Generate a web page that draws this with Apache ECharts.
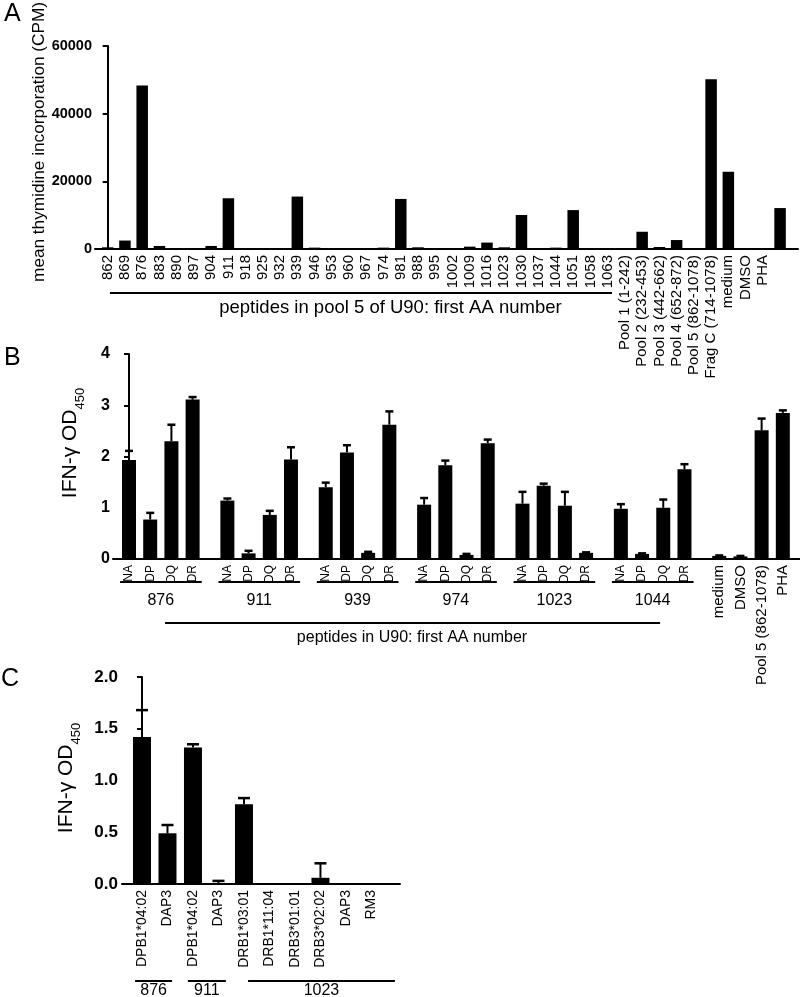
<!DOCTYPE html>
<html><head><meta charset="utf-8">
<script src="https://cdn.jsdelivr.net/npm/echarts@6/dist/echarts.min.js"></script>
<style>html,body{margin:0;padding:0;background:#fff}#c{width:800px;height:997px}</style>
</head><body><div id="c"></div>
<script>
const FONT = '"Liberation Sans", Arial, Helvetica, sans-serif';

// ---------- Panel A data ----------
const catsA = ['862','869','876','883','890','897','904','911','918','925','932','939','946','953','960','967','974','981','988','995','1002','1009','1016','1023','1030','1037','1044','1051','1058','1063',
  'Pool 1 (1-242)','Pool 2 (232-453)','Pool 3 (442-662)','Pool 4 (652-872)','Pool 5 (862-1078)','Frag C (714-1078)','medium','DMSO','PHA',''];
const valsA = [500,2500,48300,900,100,300,900,15000,0,0,0,15500,400,200,200,0,400,14800,500,0,0,700,1900,500,10050,300,400,11500,0,0,
  0,5100,600,2650,0,50150,22850,0,0,12100];
const yTicksA = [0,20000,40000,60000];
const nameA = 'mean thymidine incorporation (CPM)';
const titleA = 'peptides in pool 5 of U90: first AA number';

// ---------- Panel B data ----------
const groupsB = ['876','911','939','974','1023','1044'];
const allelesB = ['NA','DP','DQ','DR'];
const meanB = [
  [1.93,0.77,2.30,3.11],
  [1.14,0.11,0.86,1.94],
  [1.40,2.08,0.12,2.62],
  [1.06,1.83,0.08,2.26],
  [1.08,1.43,1.04,0.12],
  [0.98,0.10,1.00,1.75]
];
const semB = [
  [0.18,0.13,0.32,0.05],
  [0.04,0.05,0.08,0.24],
  [0.09,0.14,0.02,0.26],
  [0.13,0.09,0.02,0.07],
  [0.23,0.04,0.27,0.01],
  [0.09,0.01,0.16,0.10]
];
const ctrlB = ['medium','DMSO','Pool 5 (862-1078)','PHA'];
const ctrlMeanB = [0.06,0.05,2.51,2.85];
const ctrlSemB = [0.01,0.01,0.23,0.05];
const titleB = 'peptides in U90: first AA number';
const nameBC = '{m|IFN-γ OD}{s|450}';

// ---------- Panel C data ----------
const catsC = ['DPB1*04:02','DAP3','DPB1*04:02','DAP3','DRB1*03:01','DRB1*11:04','DRB3*01:01','DRB3*02:02','DAP3','RM3'];
const meanC = [1.42,0.49,1.32,0.01,0.77,0.005,0,0.06,0,0];
const semC  = [0.26,0.08,0.03,0.02,0.06,0,0,0.14,0,0];
const groupNamesC = ['876','911','1023'];
const groupSizesC = [2,2,6];

// ---------- layout ----------
const GAP_B = 0.64; // extra spacing between groups in panel B (in bar units)

const labelsB = [], posB = [], barB = [], errB = [];
groupsB.forEach((g, gi) => allelesB.forEach((a, k) => {
  const idx = gi*4 + k, x = idx + gi*GAP_B;
  labelsB.push('{a|' + a + '}'); posB.push(x);
  barB.push([x, meanB[gi][k]]);
  errB.push([x, meanB[gi][k], meanB[gi][k] + semB[gi][k]]);
}));
ctrlB.forEach((c, k) => {
  const idx = groupsB.length*4 + k, x = idx + groupsB.length*GAP_B;
  labelsB.push('{c|' + c + '}'); posB.push(x);
  barB.push([x, ctrlMeanB[k]]);
  errB.push([x, ctrlMeanB[k], ctrlMeanB[k] + ctrlSemB[k]]);
});

const barA = valsA.map((v,i)=>[i,v]);
const posA = catsA.map((c,i)=>i);
const barC = meanC.map((v,i)=>[i,v]);
const errC = meanC.map((v,i)=>[i,v,v+semC[i]]);
const posC = catsC.map((c,i)=>i);

function errRender(capHalf){
  return function(params, api){
    const x = api.value(0), y0 = api.value(1), y1 = api.value(2);
    if (!(y1 > y0)) return null;
    const p0 = api.coord([x,y0]), p1 = api.coord([x,y1]);
    return {type:'group', children:[
      {type:'line', shape:{x1:p0[0],y1:p0[1],x2:p1[0],y2:p1[1]}, style:{stroke:'#000',lineWidth:2}},
      {type:'line', shape:{x1:p1[0]-capHalf,y1:p1[1],x2:p1[0]+capHalf,y2:p1[1]}, style:{stroke:'#000',lineWidth:2.5}}
    ]};
  };
}

function xAxisCfg(grid, min, max, labels, positions, fs){
  return {type:'value', gridIndex:grid, min:min, max:max,
    axisLine:{show:true, onZero:false, lineStyle:{color:'#000', width:2}},
    axisTick:{show:false}, splitLine:{show:false},
    axisLabel:{customValues: positions, rotate:90, margin:6, color:'#000', fontFamily:FONT, fontSize:fs,
      rich:{a:{fontSize:12, fontFamily:FONT, color:'#000'}, c:{fontSize:15, fontFamily:FONT, color:'#000'}},
      formatter: v => { const i = positions.findIndex(p => Math.abs(p - v) < 1e-6); return i >= 0 ? labels[i] : ''; }}
  };
}
function yAxisCfg(grid, max, interval, fmt, fs, margin){
  return {type:'value', gridIndex:grid, min:0, max:max, interval:interval,
    axisLine:{show:true, lineStyle:{color:'#000', width:2}},
    axisTick:{show:true, length:5, lineStyle:{color:'#000', width:2}},
    splitLine:{show:false},
    axisLabel:{color:'#000', fontWeight:'bold', fontFamily:FONT, fontSize:fs, margin:margin, formatter:fmt}
  };
}

const chart = echarts.init(document.getElementById('c'), null, {renderer:'canvas'});
chart.setOption({
  animation:false,
  backgroundColor:'#fff',
  grid:[
    {left:95, right:2, top:46, height:203},
    {left:113, right:0, top:354, height:205},
    {left:122, width:278, top:677, height:207}
  ],
  xAxis:[
    xAxisCfg(0, -0.737, 40.04, catsA, posA, 15),
    xAxisCfg(1, -0.755, 31.65, labelsB, posB, 15),
    xAxisCfg(2, -0.784, 10.12, catsC, posC, 14)
  ],
  yAxis:[
    yAxisCfg(0, 60000, 20000, v => String(v), 14.5, 3),
    yAxisCfg(1, 4, 1, v => String(v), 16, 3),
    yAxisCfg(2, 2, 0.5, v => v.toFixed(1), 17, 4)
  ],
  series:[
    {type:'bar', xAxisIndex:0, yAxisIndex:0, data:barA, barWidth:11.5, itemStyle:{color:'#000'}},
    {type:'bar', xAxisIndex:1, yAxisIndex:1, data:barB, barWidth:14, itemStyle:{color:'#000'}},
    {type:'custom', xAxisIndex:1, yAxisIndex:1, data:errB, renderItem:errRender(4), z:3},
    {type:'bar', xAxisIndex:2, yAxisIndex:2, data:barC, barWidth:18, itemStyle:{color:'#000'}},
    {type:'custom', xAxisIndex:2, yAxisIndex:2, data:errC, renderItem:errRender(6), z:3}
  ]
});

// ---------- annotations derived from the axis scales ----------
const px = (ax, v) => chart.convertToPixel({xAxisIndex:ax}, v);
const g = [];
const txt = (x, y, s, fs, align) => ({type:'text', x:x, y:y, style:{text:s, fill:'#000', font: fs+'px '+FONT, textAlign:align||'center', textVerticalAlign:'middle'}});
const ln = (x1, x2, y, w) => ({type:'line', shape:{x1:x1, y1:y, x2:x2, y2:y}, style:{stroke:'#000', lineWidth:w||2}});
const vtxt = (x, y, s, fs, rich) => ({type:'text', x:x, y:y, rotation:Math.PI/2,
  style:{text:s, fill:'#000', font: fs+'px '+FONT, textAlign:'center', textVerticalAlign:'middle', rich:rich}});
const richSub = {m:{fontSize:21, fontFamily:FONT, fill:'#000', padding:[0,0,6,0]}, s:{fontSize:13, fontFamily:FONT, fill:'#000', verticalAlign:'bottom'}};

// Panel letters
g.push({type:'text', left:4, top:2, style:{text:'A', fill:'#000', font:'25px '+FONT}});
g.push({type:'text', left:4, top:346, style:{text:'B', fill:'#000', font:'25px '+FONT}});
g.push({type:'text', left:1, top:667, style:{text:'C', fill:'#000', font:'25px '+FONT}});

// Axis names
g.push(vtxt(39, 142, nameA, 17.2));
g.push(vtxt(73, 443, nameBC, 21, richSub));
g.push(vtxt(69, 778, nameBC, 21, richSub));

// Panel A
g.push(ln(px(0,0.13), px(0,29.25), 293, 2));
g.push(txt(px(0,16.4), 308, titleA, 18.5));

// Panel B: group underlines and labels
groupsB.forEach((name, gi) => {
  const a = posB[gi*4], b = posB[gi*4+3];
  g.push(ln(px(1,a-0.42), px(1,b+0.43), 582, 2));
  g.push(txt((px(1,a)+px(1,b))/2, 601, name, 16));
});
g.push(ln(px(1,1.7), px(1,25.05), 623, 2));
g.push(txt(px(1,13.35), 638, titleB, 16));

// Panel C: group underlines and labels
let start = 0;
const extC = [[-0.27,0.18],[-0.2,0.29],[0.16,0.92]];
groupNamesC.forEach((name, gi) => {
  const a = start, b = start + groupSizesC[gi] - 1;
  const x1 = px(2,a+extC[gi][0]), x2 = px(2,b+extC[gi][1]);
  g.push(ln(x1, x2, 981, 2));
  g.push(txt((x1+x2)/2, 991, name, 16));
  start += groupSizesC[gi];
});

chart.setOption({graphic: g});
</script></body></html>
